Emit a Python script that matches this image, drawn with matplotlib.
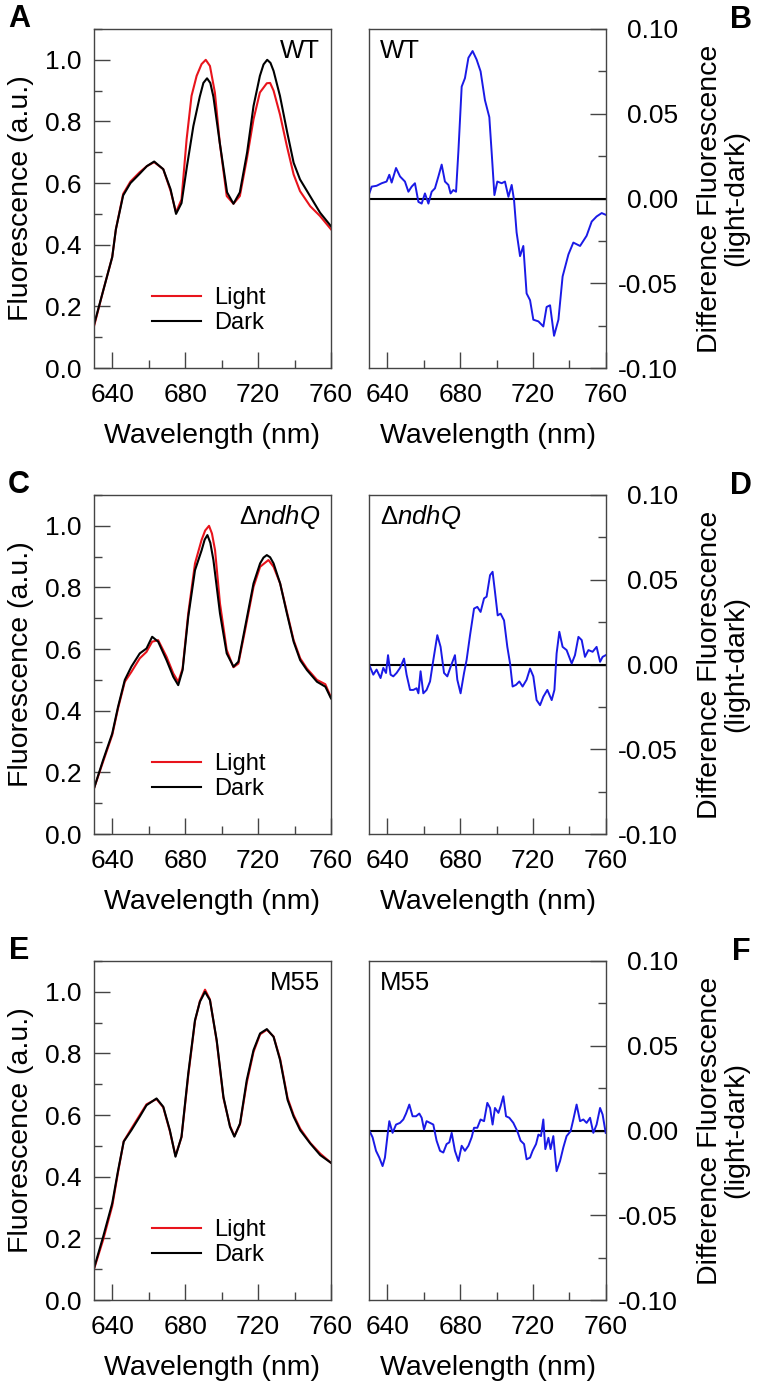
import matplotlib.pyplot as plt
from matplotlib.ticker import MultipleLocator

plt.rcParams['font.family'] = ['Liberation Sans', 'DejaVu Sans']
plt.rcParams['mathtext.fontset'] = 'custom'
plt.rcParams['mathtext.rm'] = 'Liberation Sans'
plt.rcParams['mathtext.it'] = 'Liberation Sans:italic'

# ---- WT (panels A, B) ----
wl_a_dark = [630, 635, 640, 642, 646, 650, 655, 659, 663, 668, 672, 675, 678, 681, 684.5,
             688, 690, 692, 693.8, 695.5, 699, 703, 706.5, 710, 714, 717.5, 721, 723, 725,
             726.8, 728.5, 732, 736, 739.5, 743, 748.5, 754, 760]
a_dark = [0.14, 0.25, 0.36, 0.45, 0.56, 0.60, 0.63, 0.655, 0.67, 0.645, 0.58, 0.50, 0.535,
          0.655, 0.785, 0.88, 0.925, 0.94, 0.925, 0.88, 0.73, 0.57, 0.533, 0.57, 0.70, 0.85,
          0.948, 0.985, 1.0, 0.99, 0.964, 0.883, 0.764, 0.666, 0.612, 0.558, 0.504, 0.46]
wl_a_light = [630, 635, 640, 642, 646, 650, 655, 659, 663, 668, 672, 675, 678, 680.8, 683.5,
              686.3, 689, 691.3, 693.6, 696.3, 699, 702.8, 706.5, 710, 713.8, 717.5, 721,
              724.8, 726.6, 728.5, 732, 735.8, 739.5, 743, 748.6, 754, 760]
a_light = [0.135, 0.25, 0.36, 0.45, 0.565, 0.605, 0.635, 0.655, 0.668, 0.645, 0.575, 0.505,
           0.547, 0.742, 0.883, 0.948, 0.986, 1.0, 0.98, 0.894, 0.73, 0.558, 0.533, 0.558,
           0.677, 0.807, 0.894, 0.924, 0.925, 0.90, 0.823, 0.72, 0.628, 0.574, 0.525, 0.493,
           0.45]

wl_b = [630.0, 631.3, 634.0, 636.8, 639.5, 641.0, 642.3, 644.7, 646.9, 649.6, 651.5, 653.3,
        655.1, 657.0, 658.8, 660.6, 662.5, 664.3, 666.1, 668.0, 669.8, 671.6, 673.5, 674.7,
        676.2, 677.7, 679.0, 680.8, 682.6, 684.5, 686.8, 689.0, 691.2, 693.6, 696.0, 697.3,
        698.8, 700.4, 702.8, 704.6, 706.5, 708.3, 709.6, 711.0, 712.9, 714.7, 716.5, 718.4,
        720.2, 723.0, 725.7, 727.5, 729.4, 731.6, 734.0, 736.3, 739.5, 742.2, 745.9, 749.5,
        752.3, 755.0, 757.8, 760.0]
b_diff = [0.003, 0.007, 0.0075, 0.009, 0.010, 0.014, 0.0094, 0.018, 0.013, 0.010, 0.004,
          0.007, 0.009, -0.002, -0.003, 0.003, -0.003, 0.004, 0.006, 0.013, 0.020, 0.010,
          0.008, 0.003, 0.005, 0.004, 0.028, 0.066, 0.071, 0.083, 0.087, 0.082, 0.075, 0.058,
          0.048, 0.027, 0.002, 0.010, 0.009, 0.010, 0.001, 0.008, -0.001, -0.020, -0.034,
          -0.028, -0.056, -0.060, -0.0715, -0.0725, -0.0755, -0.064, -0.063, -0.081, -0.0715,
          -0.046, -0.033, -0.026, -0.028, -0.022, -0.0136, -0.0106, -0.0086, -0.0096]

# ---- dndhQ (panels C, D) ----
wl_c_dark = [630, 635, 640, 643.2, 646.9, 650.5, 655.1, 658.8, 661.9, 665.2, 669.8, 673.5,
             676.2, 678.6, 681.7, 685.4, 689.0, 690.7, 692.2, 693.8, 695.5, 699.1, 702.8,
             706.5, 709.2, 712.9, 717.5, 721.1, 723.0, 724.8, 726.6, 728.5, 732.1, 735.8,
             739.5, 743.1, 746.8, 752.3, 756.9, 760]
c_dark = [0.148, 0.24, 0.326, 0.413, 0.5, 0.543, 0.586, 0.602, 0.64, 0.624, 0.564, 0.51,
          0.483, 0.532, 0.705, 0.856, 0.92, 0.955, 0.97, 0.945, 0.889, 0.716, 0.586, 0.543,
          0.559, 0.672, 0.813, 0.878, 0.897, 0.905, 0.898, 0.878, 0.813, 0.716, 0.624, 0.564,
          0.532, 0.494, 0.478, 0.44]
wl_c_light = [630, 635, 640, 643.2, 646.9, 650.5, 655.1, 658.8, 661.9, 665.2, 669.8, 673.5,
              676.2, 678.6, 681.7, 685.4, 689.0, 691.0, 693.1, 694.7, 696.4, 699.1, 702.8,
              706.5, 709.2, 712.9, 717.5, 721.1, 725.7, 728.5, 732.1, 735.8, 739.5, 743.1,
              746.8, 752.3, 756.9, 760]
c_light = [0.148, 0.235, 0.321, 0.408, 0.494, 0.526, 0.57, 0.591, 0.624, 0.629, 0.575, 0.521,
           0.494, 0.537, 0.716, 0.878, 0.954, 0.985, 1.0, 0.975, 0.921, 0.748, 0.597, 0.541,
           0.553, 0.662, 0.802, 0.867, 0.889, 0.867, 0.813, 0.721, 0.629, 0.57, 0.537, 0.5,
           0.486, 0.443]

wl_d = [630.0, 632.2, 634.0, 636.2, 637.7, 639.2, 640.3, 641.7, 643.2, 645.0, 646.9, 649.1,
        650.5, 652.4, 654.2, 656.0, 657.0, 658.2, 659.7, 661.5, 663.4, 665.2, 667.4, 669.2,
        671.1, 672.9, 674.7, 677.1, 678.4, 680.2, 682.1, 683.5, 685.4, 687.6, 689.4, 691.2,
        693.1, 694.5, 696.4, 697.8, 699.1, 700.6, 702.2, 704.1, 705.9, 707.4, 708.8, 710.7,
        712.5, 714.3, 716.5, 718.4, 720.2, 722.0, 723.9, 725.7, 727.9, 730.3, 731.8, 733.0,
        734.5, 736.3, 738.5, 741.3, 743.1, 745.0, 746.8, 748.6, 750.5, 752.8, 755.0, 756.9,
        758.3, 760.0]
d_diff = [-0.0004, -0.006, -0.003, -0.008, -0.002, -0.005, 0.0055, -0.006, -0.007, -0.005,
          -0.002, 0.0035, -0.006, -0.015, -0.015, -0.014, -0.017, -0.004, -0.017, -0.015,
          -0.010, 0.0026, 0.0173, 0.0104, -0.005, -0.007, -0.0014, 0.0055, -0.009, -0.017,
          -0.005, 0.0026, 0.0173, 0.033, 0.034, 0.031, 0.039, 0.040, 0.0527, 0.0547, 0.043,
          0.029, 0.030, 0.026, 0.0104, 0.0006, -0.013, -0.012, -0.010, -0.013, -0.009,
          -0.0024, -0.007, -0.021, -0.024, -0.019, -0.015, -0.021, -0.015, 0.0065, 0.0193,
          0.0104, 0.0085, 0.0006, 0.0055, 0.0163, 0.0144, 0.0045, 0.0085, 0.0075, 0.0104,
          0.0016, 0.0045, 0.0055]

# ---- M55 (panels E, F) ----
wl_e = [630, 635, 640, 643.2, 646.3, 650.5, 655.1, 658.8, 664.3, 668.0, 671.6, 674.7, 678.0,
        681.7, 685.4, 688.1, 690.9, 693.6, 697.3, 701.0, 704.6, 707.0, 710.1, 713.8, 717.5,
        721.1, 724.8, 728.5, 732.1, 736.2, 739.5, 743.1, 748.6, 754.1, 760]
e_dark = [0.103, 0.205, 0.314, 0.42, 0.514, 0.551, 0.595, 0.632, 0.654, 0.627, 0.551, 0.465,
          0.53, 0.735, 0.908, 0.968, 1.0, 0.973, 0.843, 0.659, 0.562, 0.53, 0.573, 0.714,
          0.811, 0.865, 0.879, 0.854, 0.778, 0.649, 0.595, 0.551, 0.508, 0.47, 0.445]
e_light = [0.10, 0.195, 0.305, 0.415, 0.515, 0.556, 0.60, 0.635, 0.652, 0.625, 0.548, 0.468,
           0.528, 0.728, 0.905, 0.97, 1.007, 0.975, 0.84, 0.655, 0.565, 0.532, 0.57, 0.705,
           0.805, 0.862, 0.877, 0.855, 0.782, 0.655, 0.60, 0.556, 0.51, 0.475, 0.445]

wl_f = [630.0, 631.8, 633.7, 635.5, 637.3, 638.6, 639.9, 641.0, 642.8, 644.7, 646.9, 648.7,
        650.2, 652.0, 653.8, 655.7, 657.5, 658.8, 660.1, 661.5, 663.4, 665.2, 667.0, 668.9,
        670.7, 672.5, 674.0, 675.3, 677.1, 679.0, 680.8, 682.6, 684.5, 686.3, 687.6, 689.4,
        691.2, 693.1, 694.9, 696.4, 697.8, 699.1, 701.0, 702.2, 703.7, 705.2, 707.0, 709.2,
        711.4, 713.2, 715.1, 716.5, 718.4, 719.8, 721.7, 723.0, 724.4, 725.7, 726.8, 728.5,
        729.7, 731.2, 733.0, 734.9, 736.7, 738.5, 740.7, 742.2, 744.0, 745.9, 747.7, 749.5,
        751.4, 753.2, 755.0, 756.9, 758.3, 760.0]
f_diff = [0.0, -0.004, -0.012, -0.016, -0.021, -0.016, -0.004, 0.0055, -0.0014, 0.0035,
          0.0045, 0.0065, 0.010, 0.0153, 0.0084, 0.0084, 0.010, 0.0075, 0.0006, 0.0055,
          0.0045, 0.0035, -0.006, -0.012, -0.013, -0.008, -0.007, -0.0014, -0.012, -0.018,
          -0.009, -0.012, -0.009, -0.004, 0.0016, 0.0016, 0.0065, 0.0055, 0.0163, 0.0133,
          0.0035, 0.0133, 0.0104, 0.0143, 0.0202, 0.0084, 0.0075, 0.0045, -0.0004, -0.006,
          -0.008, -0.017, -0.016, -0.012, -0.008, -0.0024, -0.0033, 0.0065, -0.011, -0.0043,
          -0.011, -0.0033, -0.024, -0.018, -0.010, -0.0033, -0.0004, 0.0065, 0.0153, 0.0055,
          0.0065, 0.0045, 0.0075, -0.0014, 0.0035, 0.0133, 0.0094, -0.0014]

strains = ['WT', 'Δ$\\mathit{ndhQ}$', 'M55']
letters = [('A', 'B'), ('C', 'D'), ('E', 'F')]
spectra = [(wl_a_light, a_light, wl_a_dark, a_dark),
           (wl_c_light, c_light, wl_c_dark, c_dark),
           (wl_e, e_light, wl_e, e_dark)]
diffs = [(wl_b, b_diff), (wl_d, d_diff), (wl_f, f_diff)]

W, H = 761, 1390
fig = plt.figure(figsize=(W / 100, H / 100), dpi=100)

row_bottoms = [368, 834, 1300]   # pixel y of bottom spine
row_height = 339
left_x, right_x, ax_w = 94, 369.3, 237
spine_col = '#444444'


def style(ax, side):
    for s in ax.spines.values():
        s.set_color(spine_col)
        s.set_linewidth(1.0)
    ax.set_xlim(630, 760)
    ax.xaxis.set_major_locator(MultipleLocator(40))
    ax.xaxis.set_minor_locator(MultipleLocator(20))
    ax.tick_params(which='both', direction='in', color=spine_col, width=1.0,
                   labelsize=19, top=False)
    ax.tick_params(which='major', length=11.5)
    ax.tick_params(which='minor', length=5.5)
    ax.tick_params(axis='x', pad=11)
    ax.set_xlabel('Wavelength (nm)', fontsize=20.5, labelpad=11)
    if side == 'left':
        ax.tick_params(axis='y', which='both', right=False, pad=9)
    else:
        ax.yaxis.tick_right()
        ax.tick_params(axis='y', which='both', left=False, right=True, pad=52)


for i in range(3):
    yb = row_bottoms[i]
    rect_l = [left_x / W, 1 - yb / H, ax_w / W, row_height / H]
    rect_r = [right_x / W, 1 - yb / H, 236.4 / W, row_height / H]

    # fluorescence spectra
    ax = fig.add_axes(rect_l)
    wl_l, light, wl_d_, dark = spectra[i]
    ax.plot(wl_l, light, color='#e8141c', lw=1.5, label='Light')
    ax.plot(wl_d_, dark, color='black', lw=1.5, label='Dark')
    ax.set_ylim(0, 1.1)
    ax.yaxis.set_major_locator(MultipleLocator(0.2))
    ax.yaxis.set_minor_locator(MultipleLocator(0.1))
    ax.yaxis.set_major_formatter(plt.FormatStrFormatter('%.1f'))
    style(ax, 'left')
    ax.set_ylabel('Fluorescence (a.u.)', fontsize=20.5)
    ax.yaxis.set_label_coords(-0.255, 0.5)
    ax.text(0.955, 0.935, strains[i], transform=ax.transAxes, ha='right', va='center',
            fontsize=18.5)
    ax.legend(frameon=False, loc='center', bbox_to_anchor=(0.485, 0.17), fontsize=17,
              handlelength=2.1, handletextpad=0.55, labelspacing=0.12, borderpad=0,
              borderaxespad=0)

    # difference spectra
    axd = fig.add_axes(rect_r)
    wl_x, dv = diffs[i]
    axd.axhline(0, color='black', lw=1.5)
    axd.plot(wl_x, dv, color='#1a1ae6', lw=1.4)
    axd.set_ylim(-0.1, 0.1)
    axd.yaxis.set_major_locator(MultipleLocator(0.05))
    axd.yaxis.set_minor_locator(MultipleLocator(0.025))
    axd.yaxis.set_major_formatter(plt.FormatStrFormatter('%.2f'))
    style(axd, 'right')
    plt.setp(axd.get_yticklabels(), ha='right')
    axd.yaxis.set_label_position('right')
    axd.set_ylabel('Difference Fluorescence\n(light-dark)', fontsize=20.5, linespacing=1.0)
    axd.yaxis.set_label_coords(1.386, 0.5)
    axd.text(0.045, 0.935, strains[i], transform=axd.transAxes, ha='left', va='center',
             fontsize=18.5)

    # panel letters
    top = yb - row_height
    fig.text(19 / W, 1 - (top - 10) / H, letters[i][0], ha='center', va='center',
             fontsize=22, fontweight='bold')
    fig.text(741 / W, 1 - (top - 9) / H, letters[i][1], ha='center', va='center',
             fontsize=22, fontweight='bold')

fig.savefig('out.png', dpi=100)
